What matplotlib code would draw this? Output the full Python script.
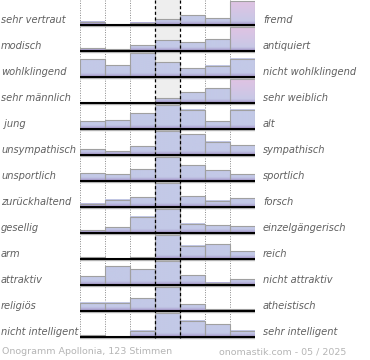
import numpy as np
import matplotlib
matplotlib.use("Agg")
import matplotlib.pyplot as plt
from matplotlib.colors import to_rgb

# Onogramm Apollonia
left_labels = ["sehr vertraut", "modisch", "wohlklingend", "sehr männlich", " jung",
               "unsympathisch", "unsportlich", "zurückhaltend", "gesellig", "arm",
               "attraktiv", "religiös", "nicht intelligent"]
right_labels = ["fremd", "antiquiert", "nicht wohlklingend", "sehr weiblich", "alt",
                "sympathisch", "sportlich", "forsch", "einzelgängerisch", "reich",
                "nicht attraktiv", "atheistisch", "sehr intelligent"]

# share of votes per scale step, relative to the biggest step of the row (in %)
r_vertraut = [14, 0, 10, 24, 40, 28, 100]
r_modisch = [12, 7, 24, 45, 37, 49, 100]
r_wohlklingend = [74, 50, 100, 62, 37, 46, 76]
r_maennlich = [0, 0, 0, 20, 45, 61, 100]
r_jung = [33, 37, 65, 100, 80, 32, 80]
r_sympathisch = [25, 16, 37, 100, 86, 56, 41]
r_sportlich = [33, 29, 50, 100, 66, 44, 29]
r_forsch = [14, 30, 41, 100, 44, 26, 37]
r_gesellig = [12, 24, 68, 100, 39, 32, 28]
r_reich = [8, 0, 7, 100, 56, 62, 32]
r_attraktiv = [37, 79, 66, 100, 40, 10, 24]
r_religioes = [35, 35, 54, 100, 29, 8, 8]
r_intelligent = [7, 0, 27, 100, 67, 54, 27]
rows = [r_vertraut, r_modisch, r_wohlklingend, r_maennlich, r_jung, r_sympathisch,
        r_sportlich, r_forsch, r_gesellig, r_reich, r_attraktiv, r_religioes, r_intelligent]
pink_bars = [(0, 6), (1, 6), (3, 6)]
footer_left = "Onogramm Apollonia, 123 Stimmen"
footer_right = "onomastik.com - 05 / 2025"

W, H = 370, 360
fig = plt.figure(figsize=(W / 100, H / 100), dpi=100)
ax = fig.add_axes([80 / W, 0, 175 / W, 1])
ax.set_xlim(0, 7)
ax.set_ylim(H, 0)  # pixel rows, top down
ax.axis("off")

row_h = 26
full = 24
blue = np.array(to_rgb("#c3c9e7"))
purple = np.array(to_rgb("#a493c8"))
pink = np.array(to_rgb("#e0c3e3"))

# gray middle column for the first four rows
ax.fill_between([3, 4], 0, 25 + 3 * row_h, color="#eeeeee", zorder=0, lw=0)

for xv in [0, 1, 2, 5, 6, 7]:
    ax.plot([xv, xv], [0, 338], color="#888888", lw=0.7, ls=(0, (1, 1.5)), zorder=1)

for i, vals in enumerate(rows):
    base = 25 + row_h * i
    for j, v in enumerate(vals):
        h = v / 100 * full
        if h <= 0:
            continue
        n = 60
        t = np.linspace(0, 1, n)[:, None]  # 0 top, 1 bottom
        px = (1 - t) * h  # px above baseline
        col = np.repeat(blue[None, :], n, axis=0)
        if (i, j) in pink_bars:
            col = blue + (pink - blue) * (px / full)
        w = np.clip(px / 4.0, 0, 1)
        col = col * w + purple * (1 - w)
        img = col[:, None, :]
        ax.imshow(img, extent=[j, j + 1, base, base - h], aspect="auto",
                  interpolation="bilinear", zorder=2)
        ax.plot([j, j, j + 1, j + 1], [base, base - h, base - h, base],
                color="#a0a0a0", lw=0.8, zorder=2.5)
    ax.plot([0, 7], [base + 1.2, base + 1.2], color="#bbbbbb", lw=1, zorder=3)
    ax.plot([0, 7], [base, base], color="black", lw=1.5, zorder=3)
    fig.text(1 / W, 1 - (base - 5) / H, left_labels[i], fontsize=7.1, style="italic",
             color="#606060", va="center", ha="left")
    fig.text(263 / W, 1 - (base - 5) / H, right_labels[i], fontsize=7.1, style="italic",
             color="#606060", va="center", ha="left")

for xv in [3, 4]:
    ax.plot([xv, xv], [0, 338], color="black", lw=0.9, ls=(0, (2.5, 2)), zorder=4)

fig.text(2 / W, 1 - 352 / H, footer_left, fontsize=6.8, color="#b5b5b5", va="center", ha="left")
fig.text(346 / W, 1 - 352 / H, footer_right, fontsize=6.8, color="#b5b5b5", va="center", ha="right")

fig.savefig("out.png", dpi=100)
